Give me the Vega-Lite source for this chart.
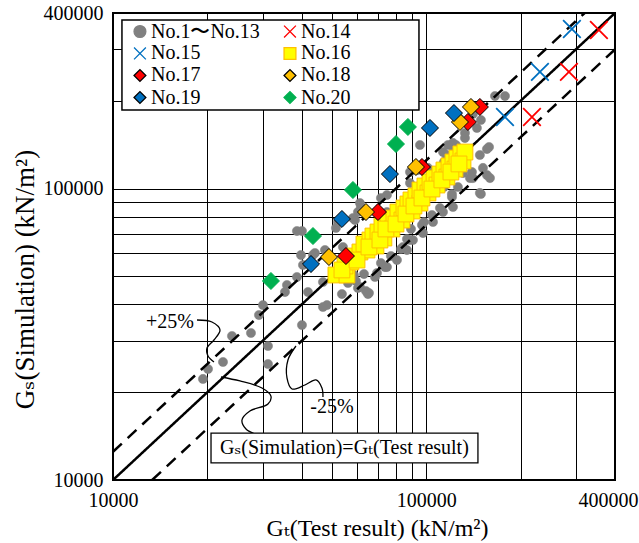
{
  "$schema": "https://vega.github.io/schema/vega-lite/v6.json",
  "width": 502,
  "height": 467,
  "autosize": {"type": "none"},
  "padding": {"left": 113, "top": 13, "right": 24, "bottom": 63},
  "background": "white",
  "datasets": {
    "points": [
      {"gt":19370,"gs":22210,"series":"No.1〜No.13"},{"gt":20100,"gs":24030,"series":"No.1〜No.13"},{"gt":22440,"gs":25400,"series":"No.1〜No.13"},{"gt":23970,"gs":31190,"series":"No.1〜No.13"},{"gt":27560,"gs":31940,"series":"No.1〜No.13"},{"gt":29230,"gs":36810,"series":"No.1〜No.13"},{"gt":30100,"gs":39810,"series":"No.1〜No.13"},{"gt":31230,"gs":28820,"series":"No.1〜No.13"},{"gt":31230,"gs":25000,"series":"No.1〜No.13"},{"gt":35380,"gs":44140,"series":"No.1〜No.13"},{"gt":35910,"gs":46660,"series":"No.1〜No.13"},{"gt":38640,"gs":49700,"series":"No.1〜No.13"},{"gt":40090,"gs":34000,"series":"No.1〜No.13"},{"gt":41900,"gs":44140,"series":"No.1〜No.13"},{"gt":46780,"gs":39220,"series":"No.1〜No.13"},{"gt":48180,"gs":39810,"series":"No.1〜No.13"},{"gt":46780,"gs":47780,"series":"No.1〜No.13"},{"gt":39800,"gs":59130,"series":"No.1〜No.13"},{"gt":43470,"gs":59130,"series":"No.1〜No.13"},{"gt":40390,"gs":54650,"series":"No.1〜No.13"},{"gt":38640,"gs":71470,"series":"No.1〜No.13"},{"gt":40090,"gs":71470,"series":"No.1〜No.13"},{"gt":51460,"gs":73200,"series":"No.1〜No.13"},{"gt":52220,"gs":76750,"series":"No.1〜No.13"},{"gt":53780,"gs":43450,"series":"No.1〜No.13"},{"gt":60490,"gs":45570,"series":"No.1〜No.13"},{"gt":65120,"gs":43450,"series":"No.1〜No.13"},{"gt":59610,"gs":48170,"series":"No.1〜No.13"},{"gt":58740,"gs":50500,"series":"No.1〜No.13"},{"gt":63230,"gs":50890,"series":"No.1〜No.13"},{"gt":56230,"gs":47400,"series":"No.1〜No.13"},{"gt":64170,"gs":44500,"series":"No.1〜No.13"},{"gt":68550,"gs":49700,"series":"No.1〜No.13"},{"gt":71630,"gs":55510,"series":"No.1〜No.13"},{"gt":73760,"gs":53780,"series":"No.1〜No.13"},{"gt":77080,"gs":58660,"series":"No.1〜No.13"},{"gt":82970,"gs":62010,"series":"No.1〜No.13"},{"gt":84200,"gs":63000,"series":"No.1〜No.13"},{"gt":86720,"gs":67110,"series":"No.1〜No.13"},{"gt":88660,"gs":66570,"series":"No.1〜No.13"},{"gt":89320,"gs":72630,"series":"No.1〜No.13"},{"gt":96830,"gs":75000,"series":"No.1〜No.13"},{"gt":98250,"gs":76750,"series":"No.1〜No.13"},{"gt":104200,"gs":81110,"series":"No.1〜No.13"},{"gt":110500,"gs":85730,"series":"No.1〜No.13"},{"gt":121600,"gs":86400,"series":"No.1〜No.13"},{"gt":120700,"gs":95750,"series":"No.1〜No.13"},{"gt":112100,"gs":107000,"series":"No.1〜No.13"},{"gt":104200,"gs":113000,"series":"No.1〜No.13"},{"gt":101200,"gs":117600,"series":"No.1〜No.13"},{"gt":113800,"gs":123300,"series":"No.1〜No.13"},{"gt":116300,"gs":120400,"series":"No.1〜No.13"},{"gt":128000,"gs":128200,"series":"No.1〜No.13"},{"gt":130900,"gs":113000,"series":"No.1〜No.13"},{"gt":124300,"gs":141000,"series":"No.1〜No.13"},{"gt":132800,"gs":149000,"series":"No.1〜No.13"},{"gt":128000,"gs":173200,"series":"No.1〜No.13"},{"gt":140800,"gs":180100,"series":"No.1〜No.13"},{"gt":149300,"gs":171800,"series":"No.1〜No.13"},{"gt":145000,"gs":161300,"series":"No.1〜No.13"},{"gt":132800,"gs":155000,"series":"No.1〜No.13"},{"gt":121600,"gs":143300,"series":"No.1〜No.13"},{"gt":117200,"gs":141000,"series":"No.1〜No.13"},{"gt":126100,"gs":137700,"series":"No.1〜No.13"},{"gt":116300,"gs":130300,"series":"No.1〜No.13"},{"gt":148200,"gs":130300,"series":"No.1〜No.13"},{"gt":139800,"gs":113900,"series":"No.1〜No.13"},{"gt":151600,"gs":117600,"series":"No.1〜No.13"},{"gt":156100,"gs":111200,"series":"No.1〜No.13"},{"gt":159600,"gs":108600,"series":"No.1〜No.13"},{"gt":137800,"gs":108600,"series":"No.1〜No.13"},{"gt":148200,"gs":96520,"series":"No.1〜No.13"},{"gt":126100,"gs":101200,"series":"No.1〜No.13"},{"gt":120700,"gs":93500,"series":"No.1〜No.13"},{"gt":95420,"gs":141000,"series":"No.1〜No.13"},{"gt":165600,"gs":207600,"series":"No.1〜No.13"},{"gt":178200,"gs":207600,"series":"No.1〜No.13"},{"gt":156100,"gs":136600,"series":"No.1〜No.13"},{"gt":158500,"gs":138800,"series":"No.1〜No.13"},{"gt":149300,"gs":95750,"series":"No.1〜No.13"},{"gt":140800,"gs":108600,"series":"No.1〜No.13"},{"gt":61840,"gs":86400,"series":"No.1〜No.13"},{"gt":60490,"gs":83050,"series":"No.1〜No.13"},{"gt":59180,"gs":77950,"series":"No.1〜No.13"},{"gt":61380,"gs":89130,"series":"No.1〜No.13"},{"gt":58310,"gs":79200,"series":"No.1〜No.13"},{"gt":54180,"gs":63000,"series":"No.1〜No.13"},{"gt":47470,"gs":61510,"series":"No.1〜No.13"},{"gt":44100,"gs":60080,"series":"No.1〜No.13"},{"gt":74860,"gs":95000,"series":"No.1〜No.13"},{"gt":71630,"gs":92780,"series":"No.1〜No.13"},{"gt":74860,"gs":83050,"series":"No.1〜No.13"},{"gt":71100,"gs":77950,"series":"No.1〜No.13"},{"gt":88660,"gs":113900,"series":"No.1〜No.13"},{"gt":94020,"gs":115700,"series":"No.1〜No.13"},{"gt":88660,"gs":104400,"series":"No.1〜No.13"},{"gt":113000,"gs":133400,"series":"No.1〜No.13"},{"gt":121600,"gs":138800,"series":"No.1〜No.13"},{"gt":113800,"gs":101200,"series":"No.1〜No.13"},{"gt":113000,"gs":83050,"series":"No.1〜No.13"},{"gt":105000,"gs":76750,"series":"No.1〜No.13"},{"gt":97530,"gs":70350,"series":"No.1〜No.13"},{"gt":90620,"gs":66570,"series":"No.1〜No.13"},{"gt":86720,"gs":61510,"series":"No.1〜No.13"},{"gt":80570,"gs":56840,"series":"No.1〜No.13"},{"gt":74860,"gs":53780,"series":"No.1〜No.13"},{"gt":69570,"gs":51290,"series":"No.1〜No.13"},{"gt":65590,"gs":43800,"series":"No.1〜No.13"},{"gt":61380,"gs":45930,"series":"No.1〜No.13"},
      {"gt":355400,"gs":349700,"series":"No.14"},{"gt":285100,"gs":251200,"series":"No.14"},{"gt":217300,"gs":175900,"series":"No.14"},
      {"gt":291400,"gs":352500,"series":"No.15"},{"gt":230400,"gs":251200,"series":"No.15"},{"gt":178200,"gs":175900,"series":"No.15"},
      {"gt":51460,"gs":50500,"series":"No.16"},{"gt":55790,"gs":50500,"series":"No.16"},{"gt":55000,"gs":54210,"series":"No.16"},{"gt":57450,"gs":55960,"series":"No.16"},{"gt":59180,"gs":58660,"series":"No.16"},{"gt":61380,"gs":60550,"series":"No.16"},{"gt":64640,"gs":61510,"series":"No.16"},{"gt":63230,"gs":64500,"series":"No.16"},{"gt":66070,"gs":66570,"series":"No.16"},{"gt":69050,"gs":63490,"series":"No.16"},{"gt":67540,"gs":68700,"series":"No.16"},{"gt":70080,"gs":70920,"series":"No.16"},{"gt":73200,"gs":67640,"series":"No.16"},{"gt":72160,"gs":74360,"series":"No.16"},{"gt":75410,"gs":76750,"series":"No.16"},{"gt":77660,"gs":72630,"series":"No.16"},{"gt":78810,"gs":79200,"series":"No.16"},{"gt":81170,"gs":83050,"series":"No.16"},{"gt":83580,"gs":77950,"series":"No.16"},{"gt":84820,"gs":85730,"series":"No.16"},{"gt":87330,"gs":88470,"series":"No.16"},{"gt":90000,"gs":83720,"series":"No.16"},{"gt":89320,"gs":91320,"series":"No.16"},{"gt":92630,"gs":94260,"series":"No.16"},{"gt":95420,"gs":89130,"series":"No.16"},{"gt":95420,"gs":98830,"series":"No.16"},{"gt":98970,"gs":102000,"series":"No.16"},{"gt":101200,"gs":96520,"series":"No.16"},{"gt":102700,"gs":105300,"series":"No.16"},{"gt":105800,"gs":108600,"series":"No.16"},{"gt":108100,"gs":102800,"series":"No.16"},{"gt":110500,"gs":112100,"series":"No.16"},{"gt":113800,"gs":115700,"series":"No.16"},{"gt":116300,"gs":109500,"series":"No.16"},{"gt":118100,"gs":119500,"series":"No.16"},{"gt":121600,"gs":123300,"series":"No.16"},{"gt":123400,"gs":116600,"series":"No.16"},{"gt":125200,"gs":127200,"series":"No.16"},{"gt":128900,"gs":131400,"series":"No.16"},{"gt":130900,"gs":124300,"series":"No.16"},{"gt":132800,"gs":133400,"series":"No.16"},{"gt":53780,"gs":52550,"series":"No.16"},{"gt":60080,"gs":56840,"series":"No.16"},{"gt":65590,"gs":63000,"series":"No.16"},{"gt":71100,"gs":66570,"series":"No.16"},{"gt":74310,"gs":72630,"series":"No.16"},{"gt":80000,"gs":75540,"series":"No.16"},{"gt":86080,"gs":81750,"series":"No.16"},{"gt":91300,"gs":87090,"series":"No.16"},{"gt":96830,"gs":92780,"series":"No.16"},{"gt":104200,"gs":99600,"series":"No.16"},{"gt":112100,"gs":107000,"series":"No.16"},{"gt":119800,"gs":113900,"series":"No.16"},{"gt":127100,"gs":121400,"series":"No.16"},
      {"gt":55390,"gs":58660,"series":"No.17"},{"gt":70080,"gs":83050,"series":"No.17"},{"gt":96830,"gs":118500,"series":"No.17"},{"gt":135700,"gs":169100,"series":"No.17"},{"gt":148200,"gs":190400,"series":"No.17"},
      {"gt":48890,"gs":58210,"series":"No.18"},{"gt":64170,"gs":83050,"series":"No.18"},{"gt":92630,"gs":118500,"series":"No.18"},{"gt":128000,"gs":169100,"series":"No.18"},{"gt":138800,"gs":190400,"series":"No.18"},
      {"gt":42840,"gs":55080,"series":"No.19"},{"gt":53780,"gs":78600,"series":"No.19"},{"gt":76530,"gs":112100,"series":"No.19"},{"gt":102700,"gs":161300,"series":"No.19"},{"gt":122500,"gs":181500,"series":"No.19"},
      {"gt":31920,"gs":48170,"series":"No.20"},{"gt":43470,"gs":68700,"series":"No.20"},{"gt":58310,"gs":98830,"series":"No.20"},{"gt":80000,"gs":142100,"series":"No.20"},{"gt":87330,"gs":162600,"series":"No.20"}
    ],
    "legend": [
      {"series":"No.1〜No.13","gt":12190,"gs":345600},
      {"series":"No.14","gt":36710,"gs":345600},
      {"series":"No.15","gt":12190,"gs":290500},
      {"series":"No.16","gt":36710,"gs":290500},
      {"series":"No.17","gt":12190,"gs":244200},
      {"series":"No.18","gt":36710,"gs":244200},
      {"series":"No.19","gt":12190,"gs":205200},
      {"series":"No.20","gt":36710,"gs":205200}
    ],
    "reflines": [
      {"gt":10000,"gs":10000,"line":"equal","dash":"solid"},
      {"gt":400000,"gs":400000,"line":"equal","dash":"solid"},
      {"gt":10000,"gs":12500,"line":"plus25","dash":"dashed"},
      {"gt":320000,"gs":400000,"line":"plus25","dash":"dashed"},
      {"gt":13333,"gs":10000,"line":"minus25","dash":"dashed"},
      {"gt":400000,"gs":300000,"line":"minus25","dash":"dashed"}
    ],
    "leaders": [
      {"curve":"p","i":1,"gt":18540,"gs":35390},{"curve":"p","i":2,"gt":20690,"gs":34830},{"curve":"p","i":3,"gt":21950,"gs":32710},{"curve":"p","i":4,"gt":21000,"gs":30220},{"curve":"p","i":5,"gt":19950,"gs":28360},{"curve":"p","i":6,"gt":20100,"gs":26630},{"curve":"p","i":7,"gt":21000,"gs":25400},
      {"curve":"e","i":1,"gt":22110,"gs":22560},{"curve":"e","i":2,"gt":25420,"gs":21860},{"curve":"e","i":3,"gt":29880,"gs":20680},{"curve":"e","i":4,"gt":31920,"gs":19410},{"curve":"e","i":5,"gt":31230,"gs":18220},{"curve":"e","i":6,"gt":27350,"gs":17250},{"curve":"e","i":7,"gt":25800,"gs":16060},{"curve":"e","i":8,"gt":26570,"gs":14960},{"curve":"e","i":9,"gt":28380,"gs":14380},
      {"curve":"m","i":1,"gt":38360,"gs":28820},{"curve":"m","i":2,"gt":36170,"gs":25800},{"curve":"m","i":3,"gt":35910,"gs":22390},{"curve":"m","i":4,"gt":37260,"gs":20520},{"curve":"m","i":5,"gt":40980,"gs":21180},{"curve":"m","i":6,"gt":44430,"gs":22040},{"curve":"m","i":7,"gt":46430,"gs":20680},{"curve":"m","i":8,"gt":46780,"gs":19260}
    ],
    "boxes": [
      {"box":"legend","gt":10680,"gt2":94720,"gs":185900,"gs2":378400},
      {"box":"label","gt":20550,"gt2":146100,"gs":11440,"gs2":14490}
    ],
    "texts": [
      {"label":"+25%","gt":15200,"gs":34830},
      {"label":"-25%","gt":49980,"gs":17850},
      {"label":"Gₛ(Simulation)=Gₜ(Test result)","gt":54780,"gs":12880}
    ]
  },
  "encoding": {
    "x": {
      "field": "gt", "type": "quantitative",
      "scale": {"type": "log", "domain": [10000, 400000], "nice": false},
      "axis": {
        "title": "Gₜ(Test result) (kN/m²)",
        "values": [10000,20000,30000,40000,50000,60000,70000,80000,90000,100000,200000,300000,400000],
        "format": "d",
        "labelExpr": "(datum.value == 10000 || datum.value == 100000 || datum.value == 400000) ? datum.label : ''",
        "labelFlush": false,
        "labelOffset": {"condition": {"test": "datum.value == 400000", "value": -7}, "value": 0},
        "titlePadding": 6,
        "titleX": 264
      }
    },
    "y": {
      "field": "gs", "type": "quantitative",
      "scale": {"type": "log", "domain": [10000, 400000], "nice": false},
      "axis": {
        "title": "Gₛ(Simulation) (kN/m²)",
        "values": [10000,20000,30000,40000,50000,60000,70000,80000,90000,100000,200000,300000,400000],
        "format": "d",
        "labelExpr": "(datum.value == 10000 || datum.value == 100000 || datum.value == 400000) ? datum.label : ''",
        "titlePadding": 4,
        "titleFontSize": 27,
        "titleY": 266
      }
    },
    "shape": {"field": "series", "type": "nominal", "scale": {"domain": ["No.1〜No.13","No.14","No.15","No.16","No.17","No.18","No.19","No.20"], "range": ["circle","M-1,-1L1,1M-1,1L1,-1","M-1,-1L1,1M-1,1L1,-1","square","diamond","diamond","diamond","diamond"]}, "legend": null},
    "fill": {"field": "series", "type": "nominal", "scale": {"domain": ["No.1〜No.13","No.14","No.15","No.16","No.17","No.18","No.19","No.20"], "range": ["#808080","transparent","transparent","#FFFF00","#FF0000","#FFC000","#0070C0","#00B050"]}, "legend": null},
    "stroke": {"field": "series", "type": "nominal", "scale": {"domain": ["No.1〜No.13","No.14","No.15","No.16","No.17","No.18","No.19","No.20"], "range": ["#808080","#FF0000","#0070C0","#FFC000","#000000","#000000","#000000","#00B050"]}, "legend": null}
  },
  "layer": [
    {
      "data": {"name": "boxes"},
      "transform": [{"filter": "datum.box == 'legend'"}],
      "mark": {"type": "rect", "fill": "white", "stroke": "black", "strokeWidth": 1.5},
      "encoding": {"x2": {"field": "gt2"}, "y2": {"field": "gs2"}, "shape": null, "fill": null, "stroke": null}
    },
    {
      "data": {"name": "legend"},
      "mark": {"type": "point", "opacity": 1, "size": 140, "strokeWidth": 1.3}
    },
    {
      "data": {"name": "legend"},
      "mark": {"type": "text", "align": "left", "baseline": "middle", "dx": 11, "fontSize": 20, "color": "black", "font": "'Liberation Serif', 'Times New Roman', 'DejaVu Serif', serif"},
      "encoding": {"text": {"field": "series"}, "shape": null, "fill": null, "stroke": null}
    },
    {
      "data": {"name": "points"},
      "transform": [{"filter": "datum.series == 'No.1〜No.13'"}],
      "mark": {"type": "point", "opacity": 1, "size": 85, "strokeWidth": 0.5}
    },
    {
      "data": {"name": "reflines"},
      "mark": {"type": "line", "stroke": "black", "strokeWidth": 2.5, "clip": true},
      "encoding": {
        "detail": {"field": "line"},
        "strokeDash": {"field": "dash", "type": "nominal", "scale": {"domain": ["solid","dashed"], "range": [[1,0],[12,8]]}, "legend": null},
        "shape": null, "fill": null, "stroke": null
      }
    },
    {
      "data": {"name": "points"},
      "transform": [{"filter": "datum.series == 'No.14' || datum.series == 'No.15'"}],
      "mark": {"type": "point", "opacity": 1, "size": 310, "strokeWidth": 1.8}
    },
    {
      "data": {"name": "points"},
      "transform": [{"filter": "datum.series == 'No.16'"}],
      "mark": {"type": "point", "opacity": 1, "size": 250, "strokeWidth": 1}
    },
    {
      "data": {"name": "points"},
      "transform": [{"filter": "datum.series == 'No.17' || datum.series == 'No.18' || datum.series == 'No.19'"}],
      "mark": {"type": "point", "opacity": 1, "size": 290, "strokeWidth": 1}
    },
    {
      "data": {"name": "points"},
      "transform": [{"filter": "datum.series == 'No.20'"}],
      "mark": {"type": "point", "opacity": 1, "size": 290, "strokeWidth": 1}
    },
    {
      "data": {"name": "leaders"},
      "mark": {"type": "line", "stroke": "black", "strokeWidth": 1.3, "interpolate": "catmull-rom"},
      "encoding": {
        "detail": {"field": "curve"},
        "order": {"field": "i", "type": "quantitative"},
        "shape": null, "fill": null, "stroke": null
      }
    },
    {
      "data": {"name": "boxes"},
      "transform": [{"filter": "datum.box == 'label'"}],
      "mark": {"type": "rect", "fill": "white", "stroke": "black", "strokeWidth": 1.3},
      "encoding": {"x2": {"field": "gt2"}, "y2": {"field": "gs2"}, "shape": null, "fill": null, "stroke": null}
    },
    {
      "data": {"name": "texts"},
      "mark": {"type": "text", "font": "'Liberation Serif', 'Times New Roman', 'DejaVu Serif', serif", "fontSize": 20, "color": "black", "align": "center", "baseline": "middle"},
      "encoding": {"text": {"field": "label"}, "shape": null, "fill": null, "stroke": null}
    }
  ],
  "config": {
    "font": "'Liberation Serif', 'Times New Roman', 'DejaVu Serif', serif",
    "view": {"stroke": "black", "strokeWidth": 2},
    "axis": {
      "labelFont": "'Liberation Serif', 'Times New Roman', 'DejaVu Serif', serif", "labelFontSize": 20, "labelColor": "black",
      "titleFont": "'Liberation Serif', 'Times New Roman', 'DejaVu Serif', serif", "titleFontSize": 24, "titleFontWeight": "normal", "titleColor": "black",
      "grid": true, "gridColor": "black", "gridWidth": 1, "gridOpacity": 1,
      "ticks": false, "domain": false, "labelPadding": 10, "labelOverlap": false, "labelBound": false
    }
  }
}
